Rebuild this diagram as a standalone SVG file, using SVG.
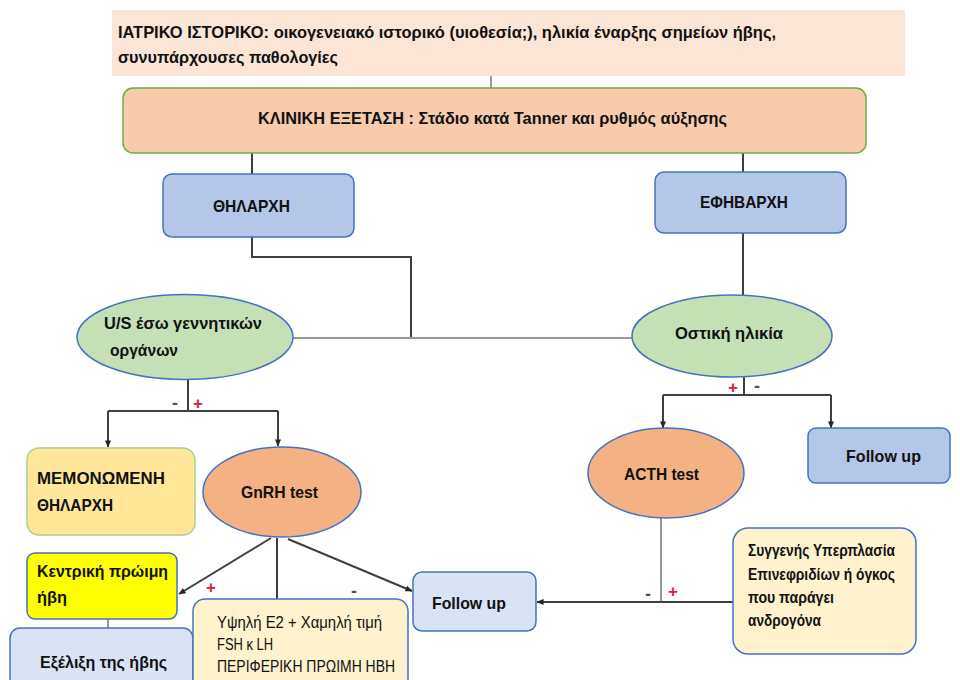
<svg xmlns="http://www.w3.org/2000/svg" width="960" height="680" viewBox="0 0 960 680">
<defs>
<marker id="arr" viewBox="0 0 8 8" refX="7.5" refY="4" markerWidth="7" markerHeight="7" markerUnits="userSpaceOnUse" orient="auto">
<path d="M0,0.5 L8,4 L0,7.5 z" fill="#262626"/>
</marker>
</defs>
<style>
text{font-family:"Liberation Sans",Arial,sans-serif;font-size:17px;font-weight:bold;fill:#111}
.n{font-weight:normal;font-size:16px}
.s{font-size:16px}
.c{stroke:#3f3f3f;stroke-width:2;fill:none}
.g{stroke:#9a9a9a;stroke-width:2;fill:none}
.blue{stroke:#4472c4;stroke-width:1.5}
.plus{fill:#e0202a;font-size:17px}
.minus{fill:#44546a;font-size:18px}
</style>
<rect width="960" height="680" fill="#ffffff"/>

<g id="connectors">
<line class="g" x1="491" y1="76" x2="491" y2="88"/>
<line class="c" x1="252" y1="153" x2="252" y2="174"/>
<line class="c" x1="743" y1="153" x2="743" y2="172"/>
<polyline class="c" points="252,237 252,257 411,257 411,338"/>
<line class="g" x1="293" y1="338" x2="632" y2="338"/>
<line class="c" x1="743" y1="233" x2="743" y2="295"/>
<line class="c" x1="188" y1="380" x2="188" y2="411"/>
<polyline class="c" points="108,411 278,411"/>
<line class="c" x1="108" y1="411" x2="108" y2="447" marker-end="url(#arr)"/>
<line class="c" x1="278" y1="411" x2="278" y2="446" marker-end="url(#arr)"/>
<line class="c" x1="744" y1="377" x2="744" y2="395"/>
<polyline class="c" points="663,395 831,395"/>
<line class="c" x1="663" y1="395" x2="663" y2="428" marker-end="url(#arr)"/>
<line class="c" x1="831" y1="395" x2="831" y2="428" marker-end="url(#arr)"/>
<line class="c" x1="271" y1="538" x2="179" y2="594" marker-end="url(#arr)"/>
<line class="c" x1="277" y1="538" x2="277" y2="599"/>
<line class="c" x1="288" y1="539" x2="412" y2="591" marker-end="url(#arr)"/>
<line class="g" x1="108" y1="619" x2="108" y2="628"/>
<line class="g" x1="661" y1="518" x2="661" y2="602"/>
<line class="c" x1="733" y1="602" x2="537" y2="602" marker-end="url(#arr)"/>
<text class="minus" x="172" y="409">-</text>
<text class="plus" x="193" y="409">+</text>
<text class="plus" x="728" y="393">+</text>
<text class="minus" x="754" y="392">-</text>
<text class="plus" x="206" y="593">+</text>
<text class="minus" x="351" y="597">-</text>
<text class="minus" x="645" y="600">-</text>
<text class="plus" x="668" y="597">+</text>
</g>

<g id="history">
<rect x="112" y="10" width="793" height="66" fill="#fbe5d6"/>
<text x="118" y="38" textLength="658" lengthAdjust="spacingAndGlyphs">ΙΑΤΡΙΚΟ ΙΣΤΟΡΙΚΟ: οικογενειακό ιστορικό (υιοθεσία;), ηλικία έναρξης σημείων ήβης,</text>
<text x="118" y="63" textLength="220" lengthAdjust="spacingAndGlyphs">συνυπάρχουσες παθολογίες</text>
</g>

<g id="clinical">
<rect x="123" y="88" width="743" height="65" rx="10" fill="#f8cbad" stroke="#70ad47" stroke-width="1.5"/>
<text x="258" y="124" textLength="469" lengthAdjust="spacingAndGlyphs">ΚΛΙΝΙΚΗ ΕΞΕΤΑΣΗ : Στάδιο κατά Tanner και ρυθμός αύξησης</text>
</g>

<g id="thelarche">
<rect class="blue" x="163" y="174" width="191" height="63" rx="9" fill="#b4c7e7"/>
<text x="213" y="212" textLength="77" lengthAdjust="spacingAndGlyphs">ΘΗΛΑΡΧΗ</text>
</g>

<g id="adrenarche">
<rect class="blue" x="655" y="172" width="191" height="61" rx="9" fill="#b4c7e7"/>
<text x="700" y="208" textLength="88" lengthAdjust="spacingAndGlyphs">ΕΦΗΒΑΡΧΗ</text>
</g>

<g id="us">
<ellipse class="blue" cx="185" cy="337" rx="108" ry="42.5" fill="#c5e0b4"/>
<text x="104" y="329" textLength="158" lengthAdjust="spacingAndGlyphs">U/S έσω γεννητικών</text>
<text x="110" y="356" textLength="68" lengthAdjust="spacingAndGlyphs">οργάνων</text>
</g>

<g id="boneage">
<ellipse class="blue" cx="732" cy="336" rx="100" ry="41" fill="#c5e0b4"/>
<text x="675" y="339" textLength="108" lengthAdjust="spacingAndGlyphs">Οστική ηλικία</text>
</g>

<g id="isolated">
<rect x="27" y="448" width="168" height="87" rx="12" fill="#ffe699" stroke="#a9d18e" stroke-width="1.5"/>
<text x="37" y="484" textLength="128" lengthAdjust="spacingAndGlyphs">ΜΕΜΟΝΩΜΕΝΗ</text>
<text x="37" y="511" textLength="76" lengthAdjust="spacingAndGlyphs">ΘΗΛΑΡΧΗ</text>
</g>

<g id="gnrh">
<ellipse class="blue" cx="282" cy="492" rx="79" ry="45" fill="#f4b183"/>
<text x="241" y="498" textLength="77" lengthAdjust="spacingAndGlyphs">GnRH test</text>
</g>

<g id="acth">
<ellipse class="blue" cx="666" cy="473" rx="78" ry="45" fill="#f4b183"/>
<text x="624" y="480" textLength="75" lengthAdjust="spacingAndGlyphs">ACTH test</text>
</g>

<g id="followup-right">
<rect class="blue" x="808" y="428" width="142" height="55" rx="8" fill="#b4c7e7"/>
<text x="846" y="462" textLength="75" lengthAdjust="spacingAndGlyphs">Follow up</text>
</g>

<g id="central">
<rect class="blue" x="27" y="553" width="150" height="66" rx="8" fill="#ffff00"/>
<text x="37" y="577" textLength="131" lengthAdjust="spacingAndGlyphs">Κεντρική πρώιμη</text>
<text x="37" y="603" textLength="30" lengthAdjust="spacingAndGlyphs">ήβη</text>
</g>

<g id="progression">
<rect class="blue" x="10" y="628" width="183" height="70" rx="10" fill="#dae3f3"/>
<text x="40" y="668" textLength="127" lengthAdjust="spacingAndGlyphs">Εξέλιξη της ήβης</text>
</g>

<g id="peripheral">
<rect class="blue" x="193" y="599" width="215" height="95" rx="12" fill="#fff2cc"/>
<text class="n" x="217" y="628" textLength="165" lengthAdjust="spacingAndGlyphs">Υψηλή Ε2 + Χαμηλή τιμή</text>
<text class="n" x="217" y="650" textLength="56" lengthAdjust="spacingAndGlyphs">FSH κ LH</text>
<text class="n" x="217" y="672" textLength="178" lengthAdjust="spacingAndGlyphs">ΠΕΡΙΦΕΡΙΚΗ ΠΡΩΙΜΗ ΗΒΗ</text>
</g>

<g id="followup-mid">
<rect class="blue" x="413" y="572" width="123" height="59" rx="9" fill="#dae3f3"/>
<text x="432" y="609" textLength="74" lengthAdjust="spacingAndGlyphs">Follow up</text>
</g>

<g id="cah">
<rect class="blue" x="733" y="528" width="183" height="126" rx="15" fill="#fff2cc"/>
<text class="s" x="748" y="556" textLength="147" lengthAdjust="spacingAndGlyphs">Συγγενής Υπερπλασία</text>
<text class="s" x="748" y="580" textLength="147" lengthAdjust="spacingAndGlyphs">Επινεφριδίων ή όγκος</text>
<text class="s" x="748" y="603" textLength="86" lengthAdjust="spacingAndGlyphs">που παράγει</text>
<text class="s" x="748" y="626" textLength="73" lengthAdjust="spacingAndGlyphs">ανδρογόνα</text>
</g>
</svg>
